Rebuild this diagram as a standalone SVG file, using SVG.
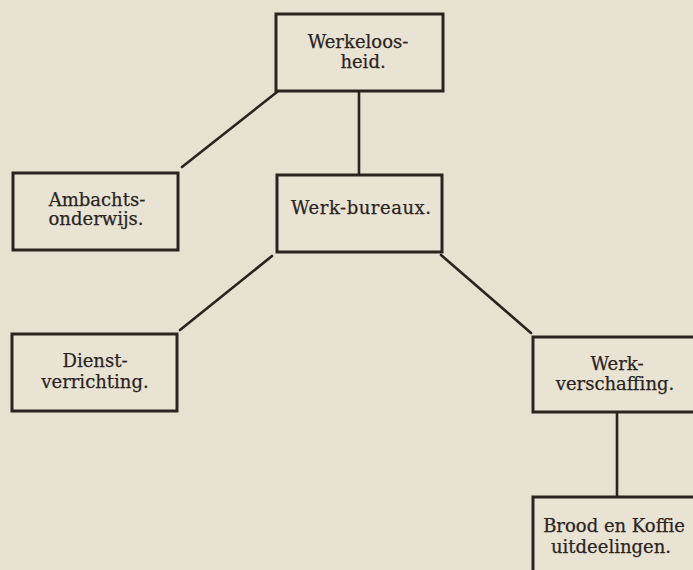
<svg xmlns="http://www.w3.org/2000/svg" width="693" height="570" viewBox="0 0 693 570">
<style>
.box{fill:#e9e3d4;stroke:#2a241e;stroke-width:3}
.con{stroke:#2a241e;stroke-width:2.6;fill:none;stroke-linecap:round}
text{font-family:"DejaVu Serif","Liberation Serif",serif;font-size:18px;fill:#2a241e;text-anchor:middle;stroke:#2a241e;stroke-width:0.25}
</style>
<rect width="693" height="570" fill="#e7e1d1"/>
<g id="connectors">
<line class="con" x1="359" y1="91" x2="359" y2="175"/>
<line class="con" x1="277" y1="92" x2="182" y2="167"/>
<line class="con" x1="272" y1="256" x2="180" y2="330"/>
<line class="con" x1="441" y1="255" x2="531" y2="333"/>
<line class="con" x1="617" y1="412" x2="617" y2="497"/>
</g>
<g id="n1">
<rect class="box" x="276" y="14" width="167" height="77"/>
<text x="358" y="48">Werkeloos-</text>
<text x="363" y="68">heid.</text>
</g>
<g id="n2">
<rect class="box" x="13" y="173" width="165" height="77"/>
<text x="97" y="206">Ambachts-</text>
<text x="96" y="225">onderwijs.</text>
</g>
<g id="n3">
<rect class="box" x="277" y="175" width="165" height="77"/>
<text x="361" y="214" textLength="140" lengthAdjust="spacing">Werk-bureaux.</text>
</g>
<g id="n4">
<rect class="box" x="12" y="334" width="165" height="77"/>
<text x="95" y="367">Dienst-</text>
<text x="95" y="388">verrichting.</text>
</g>
<g id="n5">
<rect class="box" x="533" y="337" width="170" height="75"/>
<text x="617" y="370">Werk-</text>
<text x="615" y="390">verschaffing.</text>
</g>
<g id="n6">
<rect class="box" x="533" y="497" width="170" height="85"/>
<text x="614" y="532">Brood en Koffie</text>
<text x="611" y="553">uitdeelingen.</text>
</g>
</svg>
